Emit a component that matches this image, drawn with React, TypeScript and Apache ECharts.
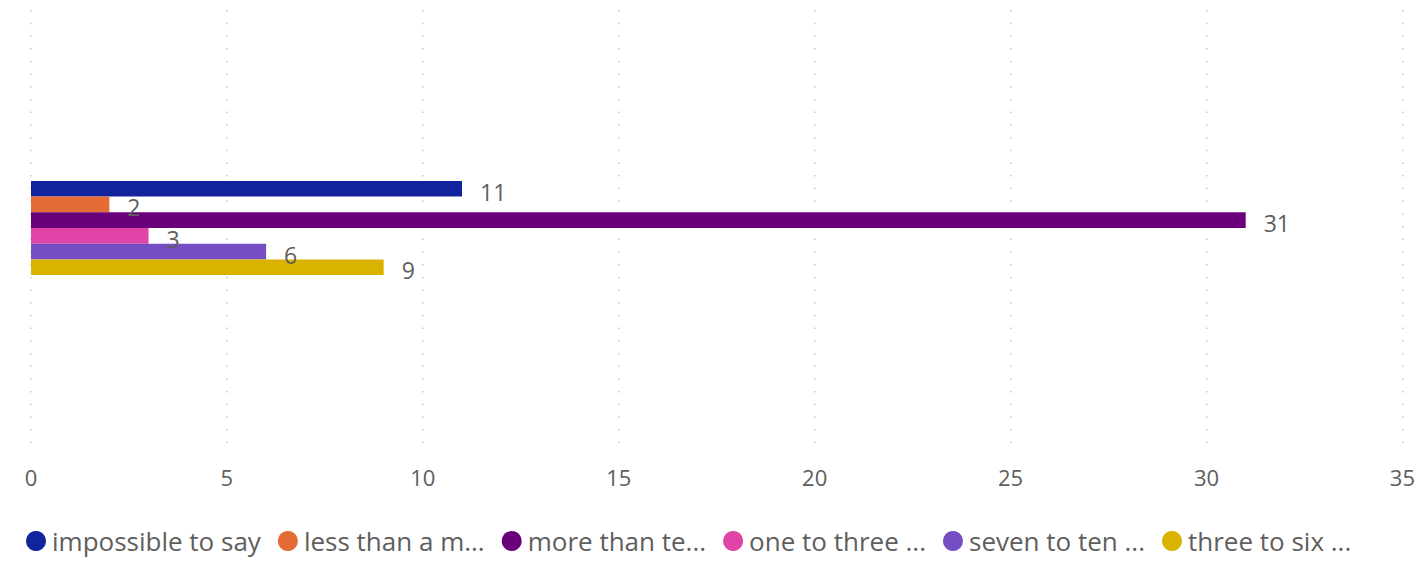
import React, { useEffect, useRef } from "react";
import * as echarts from "echarts";

const categories = ["All"];
const seriesNames = [
  "impossible to say",
  "less than a m...",
  "more than te...",
  "one to three ...",
  "seven to ten ...",
  "three to six ...",
];
const seriesValues = [11, 2, 31, 3, 6, 9];
const colors = ["#12239E", "#E66C37", "#6B007B", "#E044A7", "#744EC2", "#D9B300"];
const xTicks = { min: 0, max: 35, interval: 5 };

const FONT = "'Open Sans', 'Noto Sans', sans-serif";

export default function App() {
  const ref = useRef<HTMLDivElement>(null);
  useEffect(() => {
    document.body.style.margin = "0";
    const chart = echarts.init(ref.current!, null, { renderer: "svg" });
    chart.setOption({
      animation: false,
      textStyle: { fontFamily: FONT },
      grid: { left: 31, right: 10.7, top: 10, bottom: 572 - 446, containLabel: false },
      legend: {
        left: 26,
        top: 528,
        padding: 0,
        icon: "circle",
        itemWidth: 20,
        itemHeight: 20,
        itemGap: 17,
        textStyle: { fontSize: 26, color: "#605E5C", fontFamily: FONT, padding: [0, 0, 0, 1] },
        data: seriesNames,
      },
      xAxis: {
        type: "value",
        min: xTicks.min,
        max: xTicks.max,
        interval: xTicks.interval,
        axisLine: { show: false },
        axisTick: { show: false },
        axisLabel: { fontSize: 22, color: "#605E5C", margin: 20, fontFamily: FONT },
        splitLine: { show: true, lineStyle: { type: [1.5, 11.2], color: "#C8C8C8", width: 1.5 } },
      },
      yAxis: {
        type: "category",
        data: categories,
        inverse: true,
        axisLine: { show: false },
        axisTick: { show: false },
        axisLabel: { show: false },
      },
      series: seriesNames.map((name, i) => ({
        name,
        type: "bar",
        data: [seriesValues[i]],
        barWidth: 15.7,
        barGap: "0%",
        itemStyle: { color: colors[i] },
        label: {
          show: true,
          position: "right",
          distance: 18,
          offset: [0, 3],
          fontSize: 23,
          color: "#605E5C",
          fontFamily: FONT,
        },
      })),
    });
    return () => chart.dispose();
  }, []);
  return <div ref={ref} style={{ width: 1418, height: 572 }} />;
}
